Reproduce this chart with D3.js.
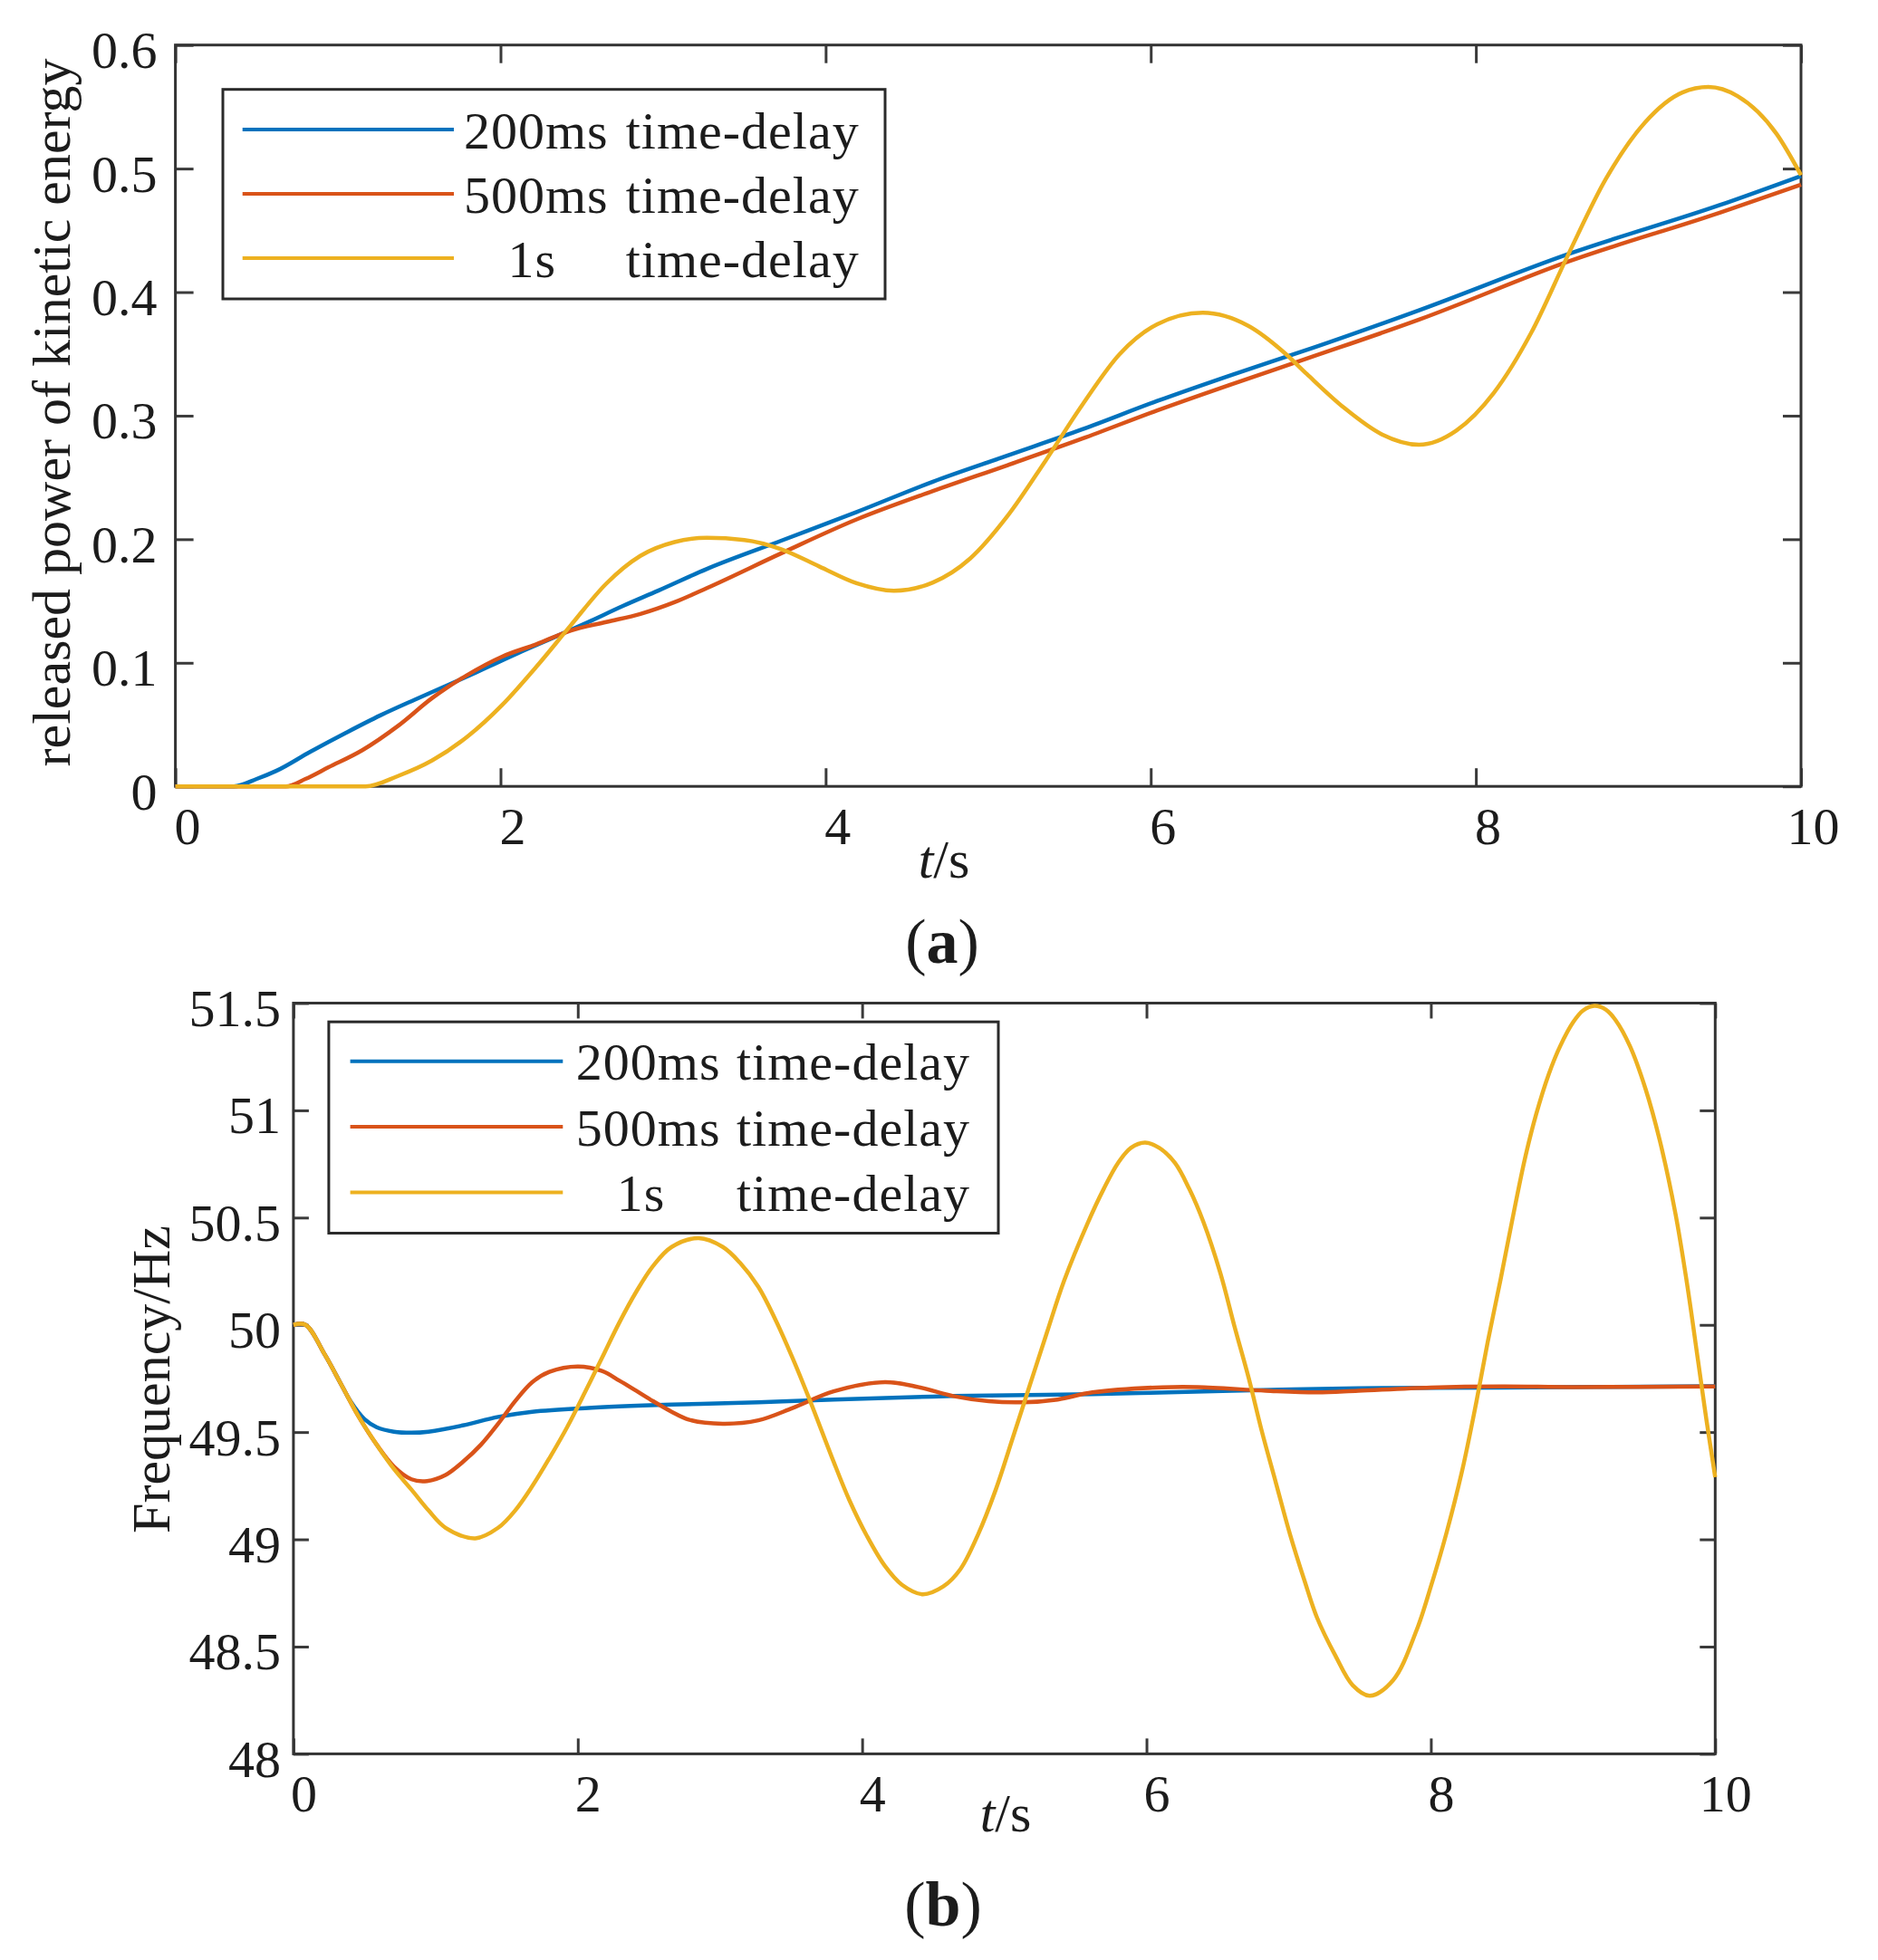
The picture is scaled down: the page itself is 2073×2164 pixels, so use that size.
<!DOCTYPE html>
<html>
<head>
<meta charset="utf-8">
<script src="https://d3js.org/d3.v7.min.js"></script>
<style>
  body { margin: 0; background: #fff; }
  text { font-family: "Liberation Serif", "Times New Roman", serif; fill: #1c1c1c; }
</style>
</head>
<body>
<svg id="chart" width="2073" height="2164"></svg>
<script>
// values, [t (s), value]
var delays = ["200ms", "500ms", "1s"]
var delaySuffix = "time-delay"
var colors = ["#0072BD", "#D95319", "#EDB120"]

var xTicks = [0, 2, 4, 6, 8, 10]
var yTicksA = [0, 0.1, 0.2, 0.3, 0.4, 0.5, 0.6]
var yTicksB = [48, 48.5, 49, 49.5, 50, 50.5, 51, 51.5]

// (a) released power of kinetic energy
var powerA200 = [[0,0],[0.36,0],[0.5,0.006],[0.62,0.0125],[0.83,0.028],[1.05,0.0434],[1.26,0.0574],
  [1.47,0.070],[1.69,0.0827],[1.90,0.0953],[2.11,0.108],[2.33,0.1206],[2.54,0.133],[2.75,0.1458],
  [2.97,0.1584],[3.27,0.176],[3.73,0.199],[4.19,0.222],[4.66,0.2466],[5.12,0.2678],[5.58,0.289],
  [6.04,0.3119],[6.50,0.3331],[7.0,0.355],[7.65,0.3853],[8.57,0.4309],[9.50,0.4704],[10,0.494]]

var powerA500 = [[0,0],[0.68,0],[0.8,0.006],[0.94,0.0153],[1.15,0.0293],[1.37,0.049],[1.58,0.0715],
  [1.79,0.0897],[2.01,0.105],[2.22,0.115],[2.43,0.126],[2.65,0.133],[2.86,0.1395],[3.07,0.149],
  [3.27,0.1605],[3.73,0.1888],[4.19,0.216],[4.66,0.239],[5.12,0.260],[5.58,0.2815],[6.04,0.3043],
  [6.50,0.3256],[7.0,0.348],[7.65,0.3777],[8.57,0.4248],[9.50,0.4643],[10,0.487]]

var powerA1s = [[0,0],[1.17,0],[1.37,0.0084],[1.58,0.021],[1.80,0.0406],[2.01,0.0658],[2.22,0.0967],
  [2.43,0.130],[2.65,0.164],[2.86,0.1865],[3.07,0.1977],[3.27,0.2011],[3.50,0.1994],[3.73,0.1918],
  [3.96,0.178],[4.19,0.1644],[4.42,0.1583],[4.66,0.165],[4.89,0.1845],[5.12,0.219],[5.35,0.263],
  [5.58,0.309],[5.81,0.35],[6.04,0.374],[6.32,0.3833],[6.60,0.3727],[6.83,0.35],[6.96,0.3337],
  [7.19,0.3063],[7.42,0.285],[7.65,0.2765],[7.88,0.288],[8.11,0.3184],[8.34,0.367],[8.57,0.4309],
  [8.80,0.4917],[9.04,0.5373],[9.27,0.5616],[9.43,0.566],[9.61,0.5586],[9.85,0.528],[10,0.4947]]

// (b) frequency
var freqB200 = [[0,50],[0.085,50],[0.22,49.862],[0.34,49.717],[0.40,49.645],[0.50,49.56],[0.585,49.523],
  [0.706,49.502],[0.83,49.497],[0.95,49.502],[1.19,49.531],[1.44,49.571],[1.68,49.595],[2.05,49.612],
  [2.66,49.628],[3.27,49.639],[3.80,49.652],[4.64,49.668],[5.62,49.677],[6.60,49.693],[7.49,49.704],
  [8.5,49.708],[10,49.714]]

var freqB500 = [[0,50],[0.085,50],[0.22,49.862],[0.34,49.717],[0.46,49.571],[0.585,49.442],[0.706,49.34],
  [0.83,49.28],[0.94,49.272],[1.07,49.30],[1.19,49.36],[1.32,49.442],[1.44,49.539],[1.56,49.645],
  [1.68,49.733],[1.80,49.781],[2.0,49.806],[2.17,49.785],[2.29,49.741],[2.41,49.693],[2.53,49.644],
  [2.66,49.595],[2.78,49.558],[3.02,49.539],[3.27,49.555],[3.51,49.612],[3.80,49.69],[4.16,49.733],
  [4.40,49.709],[4.64,49.668],[4.89,49.644],[5.13,49.639],[5.375,49.652],[5.62,49.685],[6.11,49.709],
  [6.36,49.71],[6.84,49.693],[7.20,49.685],[7.49,49.693],[8.0,49.708],[8.5,49.713],[9.0,49.71],[10,49.713]]

var freqB1s = [[0,50],[0.085,50],[0.22,49.862],[0.34,49.717],[0.46,49.571],[0.585,49.442],[0.706,49.329],
  [0.83,49.232],[0.95,49.135],[1.07,49.054],[1.28,49.005],[1.44,49.054],[1.56,49.135],[1.68,49.248],
  [1.80,49.378],[1.925,49.523],[2.05,49.685],[2.17,49.846],[2.29,50.008],[2.41,50.153],[2.53,50.275],
  [2.66,50.363],[2.85,50.404],[3.02,50.363],[3.14,50.29],[3.27,50.177],[3.39,50.024],[3.51,49.846],
  [3.63,49.652],[3.79,49.378],[3.91,49.183],[4.035,49.014],[4.16,48.876],[4.28,48.788],[4.425,48.744],
  [4.57,48.78],[4.69,48.86],[4.815,49.022],[4.94,49.232],[5.06,49.474],[5.18,49.72],[5.30,49.965],
  [5.42,50.205],[5.59,50.48],[5.70,50.635],[5.80,50.755],[5.89,50.825],[5.99,50.85],[6.09,50.825],
  [6.20,50.755],[6.30,50.635],[6.40,50.48],[6.52,50.24],
  [6.62,49.99],[6.72,49.749],[6.81,49.507],[6.91,49.264],[7.01,49.022],[7.11,48.81],[7.20,48.634],
  [7.33,48.456],[7.45,48.32],[7.57,48.271],[7.735,48.344],[7.90,48.577],[8.0,48.78],[8.11,49.03],
  [8.22,49.32],[8.32,49.64],[8.40,49.92],[8.49,50.21],[8.57,50.48],[8.66,50.77],[8.74,50.98],
  [8.83,51.17],[8.91,51.30],[9.00,51.41],[9.07,51.465],[9.15,51.487],[9.23,51.47],[9.30,51.42],
  [9.40,51.30],[9.51,51.10],[9.61,50.86],[9.72,50.52],[9.80,50.20],[9.88,49.83],[9.94,49.55],[10,49.29]]

var svg = d3.select("#chart")
svg.append("rect").attr("width", 2073).attr("height", 2164).attr("fill", "#fff")

var fontFam = '"Liberation Serif", "Times New Roman", serif'

function drawPanel(cfg) {
  var x = d3.scaleLinear().domain([0, 10]).range([cfg.left, cfg.right])
  var y = d3.scaleLinear().domain(cfg.yDomain).range([cfg.bottom, cfg.top])
  var g = svg.append("g")

  function styleAxis(sel) {
    sel.attr("font-size", 58).attr("font-family", fontFam)
    sel.select(".domain").remove()
    sel.selectAll(".tick line").attr("stroke", "#3a3a3a").attr("stroke-width", 3)
    sel.selectAll(".tick text").attr("fill", "#1c1c1c")
  }

  var bottomAx = g.append("g").attr("transform", "translate(0," + cfg.bottom + ")")
    .call(d3.axisBottom(x).tickValues(xTicks).tickSizeInner(-cfg.tick).tickSizeOuter(0).tickFormat(d => d))
  styleAxis(bottomAx)
  bottomAx.selectAll(".tick text").attr("y", 64).attr("dy", 0).attr("dx", cfg.xShift)

  g.append("g").attr("transform", "translate(0," + cfg.top + ")")
    .call(d3.axisTop(x).tickValues(xTicks).tickSizeInner(-cfg.tick).tickSizeOuter(0).tickFormat(""))
    .call(styleAxis)

  var leftAx = g.append("g").attr("transform", "translate(" + cfg.left + ",0)")
    .call(d3.axisLeft(y).tickValues(cfg.yTicks).tickSizeInner(-cfg.tick).tickSizeOuter(0).tickFormat(d => d))
  styleAxis(leftAx)
  leftAx.selectAll(".tick text").attr("x", -cfg.yGap).attr("dy", 0).attr("y", 25)

  g.append("g").attr("transform", "translate(" + cfg.right + ",0)")
    .call(d3.axisRight(y).tickValues(cfg.yTicks).tickSizeInner(-cfg.tick).tickSizeOuter(0).tickFormat(""))
    .call(styleAxis)

  // box
  g.append("rect")
    .attr("x", cfg.left).attr("y", cfg.top)
    .attr("width", cfg.right - cfg.left).attr("height", cfg.bottom - cfg.top)
    .attr("fill", "none").attr("stroke", "#333").attr("stroke-width", 3)

  var line = d3.line().x(d => x(d[0])).y(d => y(d[1])).curve(cfg.curve)
  cfg.series.forEach(function (s, i) {
    g.append("path").datum(s)
      .attr("d", line)
      .attr("fill", "none")
      .attr("stroke", colors[i])
      .attr("stroke-width", 4.5)
      .attr("stroke-linejoin", "round")
  })

  // legend
  var L = cfg.legend
  g.append("rect").attr("x", L.x).attr("y", L.y).attr("width", L.w).attr("height", L.h)
    .attr("fill", "#fff").attr("stroke", "#2a2a2a").attr("stroke-width", 3)
  delays.forEach(function (name, i) {
    var ry = L.y + L.rows[i]
    g.append("line").attr("x1", L.x + L.l1).attr("x2", L.x + L.l2)
      .attr("y1", ry).attr("y2", ry)
      .attr("stroke", colors[i]).attr("stroke-width", 4)
    g.append("text").attr("x", L.x + (name === "1s" ? L.p2 : L.p1)).attr("y", ry + 20.5)
      .attr("font-size", 58).attr("letter-spacing", 1).text(name)
    g.append("text").attr("x", L.x + L.t).attr("y", ry + 20.5)
      .attr("font-size", 58).attr("letter-spacing", 1).text(delaySuffix)
  })

  // axis labels
  g.append("text")
    .attr("transform", "translate(" + cfg.yLab[0] + "," + cfg.yLab[1] + ") rotate(-90)")
    .attr("text-anchor", "middle").attr("font-size", 60).text(cfg.yTitle)

  var xl = g.append("text").attr("x", cfg.xLab[0]).attr("y", cfg.xLab[1])
    .attr("text-anchor", "middle").attr("font-size", 60)
  xl.append("tspan").attr("font-style", "italic").text("t")
  xl.append("tspan").text("/s")

  var cap = g.append("text").attr("x", cfg.cap[0]).attr("y", cfg.cap[1])
    .attr("text-anchor", "middle").attr("font-size", 70).attr("fill", "#000")
  cap.append("tspan").text("(")
  cap.append("tspan").attr("font-weight", "bold").text(cfg.capLetter)
  cap.append("tspan").text(")")
}

drawPanel({
  left: 193.6, right: 1988, top: 49.7, bottom: 868.2,
  yDomain: [0, 0.6], yTicks: yTicksA, tick: 20, xShift: 13, yGap: 20,
  curve: d3.curveMonotoneX,
  series: [powerA200, powerA500, powerA1s],
  legend: { x: 246, y: 98.7, w: 731, h: 231.3, rows: [44.3, 115.3, 186.3],
            l1: 21.7, l2: 255, p1: 266, p2: 314.5, t: 444.7 },
  yTitle: "released power of kinetic energy", yLab: [77, 455.5],
  xLab: [1042, 969], cap: [1040, 1063], capLetter: "a"
})

drawPanel({
  left: 323.9, right: 1893.3, top: 1107.5, bottom: 1936.4,
  yDomain: [48, 51.5], yTicks: yTicksB, tick: 17, xShift: 11, yGap: 14,
  curve: d3.curveCatmullRom.alpha(0.5),
  series: [freqB200, freqB500, freqB1s],
  legend: { x: 362.9, y: 1128.2, w: 739.1, h: 233.3, rows: [43.5, 115.8, 188.4],
            l1: 23.7, l2: 258.4, p1: 272.9, p2: 317.9, t: 450.1 },
  yTitle: "Frequency/Hz", yLab: [186.7, 1523],
  xLab: [1110, 2022], cap: [1041, 2126], capLetter: "b"
})
</script>
</body>
</html>
